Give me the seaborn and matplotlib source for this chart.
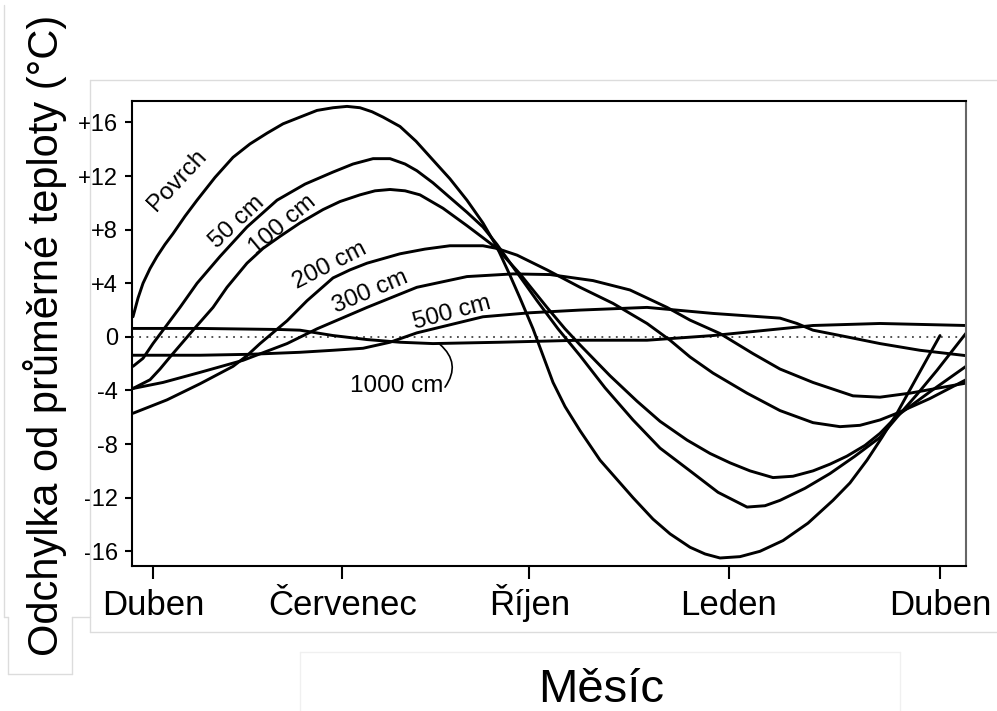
import matplotlib
matplotlib.use("Agg")
import matplotlib.pyplot as plt
import seaborn as sns
import pandas as pd

# months since April (Duben = 0)
povrch_m = [-0.31, -0.233, -0.157, -0.05, 0.056, 0.178, 0.30, 0.483, 0.667, 0.941, 1.216,
            1.475, 1.734, 1.979, 2.237, 2.497, 2.741, 2.955, 3.153, 3.336, 3.504, 3.763,
            4.007, 4.265, 4.524, 4.784, 5.028, 5.242, 5.44, 5.593, 5.792, 5.975, 6.097,
            6.28, 6.509, 6.814, 7.317, 7.622, 7.882, 8.187, 8.416, 8.644, 8.949, 9.254,
            9.605, 9.986, 10.367, 10.626, 10.886, 11.114, 11.343, 11.648, 12.0]
povrch_v = [1.5, 2.9, 4.0, 5.1, 6.0, 6.9, 7.7, 9.0, 10.2, 11.9, 13.4,
            14.4, 15.2, 15.9, 16.4, 16.9, 17.1, 17.2, 17.1, 16.8, 16.4, 15.7,
            14.6, 13.2, 11.8, 10.2, 8.5, 6.7, 4.6, 2.9, 0.6, -1.8, -3.4,
            -5.2, -7.0, -9.2, -12.0, -13.6, -14.7, -15.7, -16.2, -16.5, -16.4, -16.0,
            -15.2, -13.9, -12.2, -10.9, -9.2, -7.5, -5.7, -3.0, 0.1]

cm50_m = [-0.31, -0.157, -0.005, 0.148, 0.407, 0.667, 1.017, 1.429, 1.887, 2.314, 2.741,
          3.046, 3.352, 3.611, 3.84, 4.02, 4.265, 4.524, 4.784, 5.028, 5.242, 5.548,
          5.853, 6.173, 6.509, 6.89, 7.317, 7.729, 8.187, 8.614, 9.056, 9.330, 9.559,
          9.940, 10.321, 10.703, 11.084, 11.343, 11.648, 11.953, 12.396]
cm50_v = [-2.2, -1.6, -0.5, 0.5, 2.2, 4.0, 6.0, 8.2, 10.2, 11.4, 12.3,
          12.9, 13.3, 13.3, 12.9, 12.4, 11.5, 10.4, 9.3, 8.2, 6.9, 4.8,
          2.7, 0.6, -1.4, -3.8, -6.2, -8.3, -10.0, -11.6, -12.7, -12.6, -12.2,
          -11.3, -10.2, -8.9, -7.5, -6.0, -4.3, -2.5, 0.27]

cm100_m = [-0.31, -0.05, 0.102, 0.255, 0.606, 0.911, 1.124, 1.429, 1.673, 1.933, 2.237,
           2.589, 2.848, 3.153, 3.382, 3.611, 3.84, 4.067, 4.418, 4.784, 5.028, 5.242,
           5.593, 6.005, 6.280, 6.509, 6.966, 7.378, 7.729, 8.141, 8.492, 8.797, 9.102,
           9.452, 9.757, 10.062, 10.321, 10.58, 10.855, 11.084, 11.343, 11.846, 12.396]
cm100_v = [-3.85, -3.2, -2.4, -1.5, 0.5, 2.2, 3.7, 5.5, 6.6, 7.5, 8.5,
           9.5, 10.1, 10.6, 10.9, 11.0, 10.9, 10.6, 9.6, 8.3, 7.4, 6.6,
           4.7, 2.2, 0.6, -0.6, -2.9, -4.8, -6.3, -7.7, -8.7, -9.4, -10.0,
           -10.5, -10.4, -10.0, -9.5, -8.9, -8.1, -7.2, -5.9, -4.1, -2.2]

cm200_m = [-0.31, -0.05, 0.209, 0.712, 1.216, 1.429, 1.628, 2.04, 2.345, 2.741, 3.0, 3.26,
           3.763, 4.143, 4.524, 5.028, 5.242, 5.548, 6.005, 6.509, 7.012, 7.531, 7.882,
           8.187, 8.537, 9.056, 9.559, 10.062, 10.474, 10.779, 11.084, 11.343, 11.846, 12.396]
cm200_v = [-5.7, -5.2, -4.7, -3.5, -2.2, -1.4, -0.5, 1.2, 2.7, 4.4, 5.0, 5.5,
           6.2, 6.55, 6.8, 6.8, 6.6, 6.1, 5.0, 3.7, 2.5, 1.0, -0.25,
           -1.5, -2.7, -4.2, -5.5, -6.4, -6.7, -6.6, -6.2, -5.7, -4.6, -3.2]

cm300_m = [-0.31, 0.148, 0.712, 1.368, 2.04, 2.497, 3.26, 4.02, 4.784, 5.487, 6.051, 6.707,
           7.271, 7.836, 8.187, 8.644, 9.147, 9.559, 10.062, 10.672, 11.084, 11.541, 12.396]
cm300_v = [-3.85, -3.4, -2.65, -1.75, -0.5, 0.6, 2.2, 3.7, 4.5, 4.7, 4.65, 4.2,
           3.5, 2.2, 1.25, 0.25, -1.25, -2.4, -3.4, -4.4, -4.5, -4.2, -3.45]

cm500_m = [-0.31, 0.712, 1.475, 2.237, 2.741, 3.199, 3.611, 4.02, 4.524, 5.028, 5.746, 6.509,
           7.531, 8.537, 9.559, 9.818, 10.062, 10.58, 11.084, 11.694, 12.396]
cm500_v = [-1.37, -1.37, -1.3, -1.15, -1.0, -0.85, -0.4, 0.3, 0.9, 1.5, 1.8, 2.0,
           2.2, 1.75, 1.4, 1.0, 0.5, 0.0, -0.5, -1.0, -1.4]

cm1000_m = [-0.31, 0.712, 1.933, 2.237, 2.741, 3.26, 3.763, 4.265, 5.288, 6.509, 7.531, 8.537,
            9.559, 10.062, 11.084, 12.396]
cm1000_v = [0.63, 0.63, 0.55, 0.5, 0.1, -0.2, -0.4, -0.5, -0.4, -0.25, -0.25, 0.1,
            0.6, 0.85, 1.0, 0.85]

tick_pos = [0, 2.883, 5.735, 8.777, 12]
tick_names = ["Duben", "Červenec", "Říjen", "Leden", "Duben"]
y_ticks = [16, 12, 8, 4, 0, -4, -8, -12, -16]
y_names = ["+16", "+12", "+8", "+4", "0", "-4", "-8", "-12", "-16"]

series = {
    "Povrch": (povrch_m, povrch_v),
    "50 cm": (cm50_m, cm50_v),
    "100 cm": (cm100_m, cm100_v),
    "200 cm": (cm200_m, cm200_v),
    "300 cm": (cm300_m, cm300_v),
    "500 cm": (cm500_m, cm500_v),
    "1000 cm": (cm1000_m, cm1000_v),
}
df = pd.concat([pd.DataFrame({"mesic": m, "odchylka": v, "hloubka": k})
                for k, (m, v) in series.items()], ignore_index=True)

sns.set_theme(style="white")
plt.rcParams["font.family"] = ["Liberation Sans", "DejaVu Sans"]
plt.rcParams["text.color"] = "black"
plt.rcParams["axes.labelcolor"] = "black"

fig = plt.figure(figsize=(9.97, 7.11), dpi=100)
ax = fig.add_axes([0.1324, 0.2039, 0.8365, 0.654])

ax.axhline(0, color="#444444", lw=1.3, ls=(0, (1, 3)), zorder=1)
sns.lineplot(data=df, x="mesic", y="odchylka", hue="hloubka", estimator=None, sort=False,
             palette=["black"] * len(series), legend=False, lw=2.1, ax=ax,
             solid_joinstyle="round", solid_capstyle="round")

ax.set_xlim(-0.325, 12.396)
ax.set_ylim(-17.1, 17.6)
ax.set_xticks(tick_pos, tick_names)
ax.set_yticks(y_ticks, y_names)
ax.tick_params(axis="x", direction="out", length=9, width=1.5, labelsize=25, pad=26.5,
               colors="black", bottom=True)
ax.tick_params(axis="y", direction="out", length=5, width=1.5, labelsize=17, pad=5,
               colors="black", left=True)
for t in ax.get_xticklabels():
    t.set_va("baseline")
for s in ax.spines.values():
    s.set_color("black")
    s.set_linewidth(1.5)
ax.spines["right"].set_color("#666666")

ax.set_xlabel("Měsíc", fontsize=34, va="center", color="black")
ax.xaxis.set_label_coords(0.562, -0.267)
ax.set_ylabel("Odchylka od průměrné teploty (°C)", fontsize=30, va="center", color="black")
ax.yaxis.set_label_coords(-0.104, 0.497)

# curve labels
lab = dict(fontsize=17.5, ha="center", va="center", rotation_mode="anchor", color="black")
ax.text(0.361, 11.7, "Povrch", rotation=47, **lab)
ax.text(1.28, 8.55, "50 cm", rotation=43, **lab)
ax.text(1.978, 8.34, "100 cm", rotation=40, **lab)
ax.text(2.695, 5.35, "200 cm", rotation=27, **lab)
ax.text(3.305, 3.34, "300 cm", rotation=23, **lab)
ax.text(4.556, 1.77, "500 cm", rotation=15, **lab)
ax.text(3.717, -3.68, "1000 cm", **lab)
ax.annotate("", xy=(4.37, -0.55), xytext=(4.45, -3.75),
            arrowprops=dict(arrowstyle="-", color="black", lw=1.2,
                            connectionstyle="arc3,rad=0.45", shrinkA=0, shrinkB=0))

# faint frames of the scanned picture
W, H = 997, 711
frame = "#dcdcdc"
def fline(x0, y0, x1, y1, c=frame):
    fig.add_artist(plt.Line2D([x0 / W, x1 / W], [1 - y0 / H, 1 - y1 / H], color=c, lw=1))
fline(90, 80, 997, 80)
fline(90, 80, 90, 632)
fline(90, 632, 997, 632)
fline(4, 5, 4, 617)
fline(4, 617, 8, 617)
fline(8, 617, 8, 674)
fline(8, 674, 72, 674)
fline(72, 674, 72, 617)
fline(72, 617, 90, 617)
fline(300, 652, 900, 652, "#f0f0f0")
fline(300, 652, 300, 711, "#f0f0f0")
fline(900, 652, 900, 711, "#f0f0f0")

fig.savefig("out.png", dpi=100)
